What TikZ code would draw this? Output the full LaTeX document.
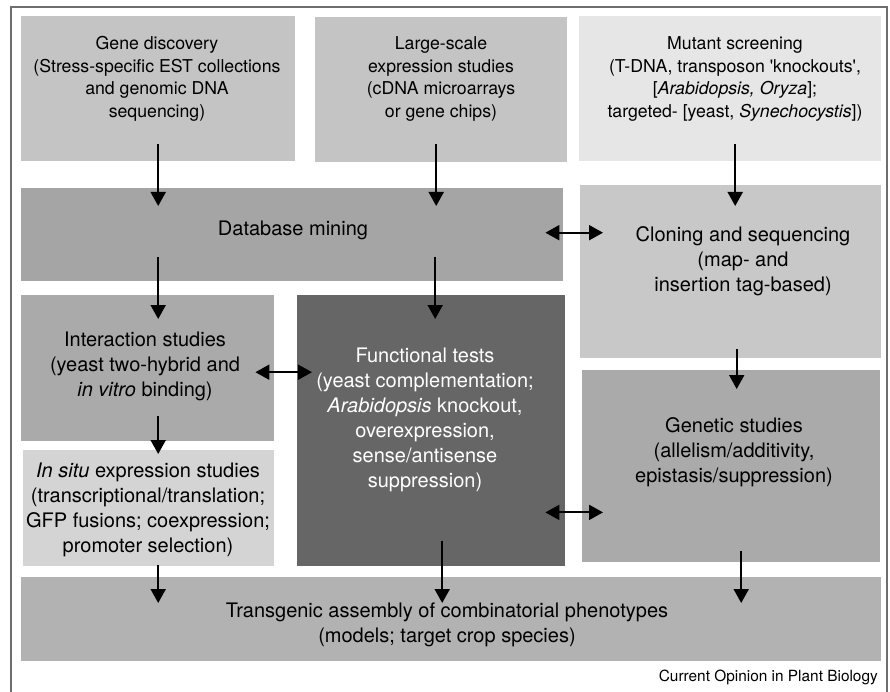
\documentclass[tikz,border=0pt]{standalone}
\usepackage{fontspec}
\setmainfont{TeX Gyre Heros}
\usetikzlibrary{arrows.meta}

\definecolor{topgray}{HTML}{C4C4C4}
\definecolor{paleg}{HTML}{E6E6E6}
\definecolor{dbgray}{HTML}{A5A5A5}
\definecolor{clonegray}{HTML}{C8C8C8}
\definecolor{midgray}{HTML}{AAAAAA}
\definecolor{situgray}{HTML}{D4D4D4}
\definecolor{darkbox}{HTML}{666666}
\definecolor{transgray}{HTML}{B2B2B2}
\definecolor{framegray}{HTML}{6E6E6E}

\begin{document}
\begin{tikzpicture}[
  x=1pt, y=-1pt,
  box/.style={rectangle, inner sep=0pt, anchor=north west},
  txt/.style={align=center, inner sep=0pt, font=\fontsize{20}{25}\selectfont},
  toptxt/.style={align=center, inner sep=0pt, font=\fontsize{17.7}{22.5}\selectfont},
  arr/.style={line width=2pt, -{Triangle[width=15pt,length=14pt]}},
  darr/.style={line width=2pt, {Triangle[width=15pt,length=14pt]}-{Triangle[width=15pt,length=14pt]}}
]
\useasboundingbox (0,0) rectangle (890,692);
\draw[framegray, line width=1.2pt] (11,692) -- (11,7) -- (887,7) -- (887,692);

% boxes
\node[box, fill=topgray, minimum width=274pt, minimum height=145pt] (gene) at (21,16) {};
\node[box, fill=topgray, minimum width=252pt, minimum height=145pt] (large) at (315,17) {};
\node[box, fill=paleg, minimum width=302pt, minimum height=145pt] (mutant) at (579,16) {};
\node[box, fill=dbgray, minimum width=542pt, minimum height=93pt] (db) at (21,188) {};
\node[box, fill=clonegray, minimum width=301pt, minimum height=173pt] (clone) at (580,185) {};
\node[box, fill=midgray, minimum width=253pt, minimum height=146pt] (inter) at (21,295) {};
\node[box, fill=situgray, minimum width=251pt, minimum height=116pt] (insitu) at (23,450) {};
\node[box, fill=darkbox, minimum width=268pt, minimum height=271pt] (func) at (297,295) {};
\node[box, fill=midgray, minimum width=298pt, minimum height=192pt] (genetic) at (582,370) {};
\node[box, fill=transgray, minimum width=860pt, minimum height=84pt] (trans) at (21,577) {};

% texts
\node[toptxt] (genetxt) at (157,79) {Gene discovery\\(Stress-specific EST collections\\and genomic DNA\\sequencing)};
\node[toptxt] (largetxt) at (441,79) {Large-scale\\expression studies\\(cDNA microarrays\\or gene chips)};
\node[toptxt] (mutanttxt) at (735,79) {Mutant screening\\(T-DNA, transposon \textquotesingle knockouts\textquotesingle,\\{[}\textit{Arabidopsis, Oryza}];\\targeted- [yeast, \textit{Synechocystis}])};
\node[txt] (dbtxt) at (293,230) {Database mining};
\node[txt] (clonetxt) at (743,261) {Cloning and sequencing\\(map- and\\insertion tag-based)};
\node[txt] (intertxt) at (145,366) {Interaction studies\\(yeast two-hybrid and\\\textit{in vitro} binding)};
\node[txt] (situtxt) at (148,510) {\textit{In situ} expression studies\\(transcriptional/translation;\\GFP fusions; coexpression;\\promoter selection)};
\node[txt, text=white] (functxt) at (425,420) {Functional tests\\(yeast complementation;\\\textit{Arabidopsis} knockout,\\overexpression,\\sense/antisense\\suppression)};
\node[txt] (genetictxt) at (734,452) {Genetic studies\\(allelism/additivity,\\epistasis/suppression)};
\node[txt] (transtxt) at (447,625) {Transgenic assembly of combinatorial phenotypes\\(models; target crop species)};
\node[anchor=east, inner sep=0pt, font=\fontsize{15.4}{18}\selectfont] (credit) at (878,677) {Current Opinion in Plant Biology};

% connectors
\draw[arr] ([yshift=17pt]gene.south) -- ([yshift=-18pt]gene.south |- db.north);
\draw[arr] ([xshift=-5pt,yshift=18pt]large.south) -- ([xshift=-5pt,yshift=-18pt]large.south |- db.north);
\draw[arr] ([xshift=5pt,yshift=17pt]mutant.south) -- ([xshift=5pt,yshift=-21pt]mutant.south |- clone.north);
\draw[darr] ([xshift=-18pt,yshift=2pt]db.east) -- ([xshift=23pt,yshift=2pt]db.east -| clone.west);
\draw[arr] ([yshift=24pt]gene.south |- db.south) -- ([yshift=-24pt]gene.south |- inter.north);
\draw[arr] ([xshift=-6pt,yshift=24pt]large.south |- db.south) -- ([xshift=-6pt,yshift=-24pt]large.south |- func.north);
\draw[darr] ([xshift=-19pt,yshift=-4pt]inter.east) -- ([xshift=15pt,yshift=-4pt]inter.east -| func.west);
\draw[arr] ([yshift=25pt]gene.south |- inter.south) -- ([yshift=-4pt]gene.south |- insitu.north);
\draw[arr] ([xshift=6pt,yshift=9pt]clone.south) -- ([xshift=6pt,yshift=-19pt]clone.south |- genetic.north);
\draw[darr] ([xshift=-20pt,yshift=54pt]func.south east) -- ([xshift=21pt,yshift=54pt]func.south east -| genetic.west);
\draw[arr] ([yshift=1pt]gene.south |- insitu.south) -- ([yshift=-26pt]gene.south |- trans.north);
\draw[arr] ([xshift=11pt,yshift=25pt]func.south) -- ([xshift=11pt,yshift=-26pt]func.south |- trans.north);
\draw[arr] ([xshift=10pt,yshift=11pt]genetic.south) -- ([xshift=10pt,yshift=-26pt]genetic.south |- trans.north);
\end{tikzpicture}
\end{document}
